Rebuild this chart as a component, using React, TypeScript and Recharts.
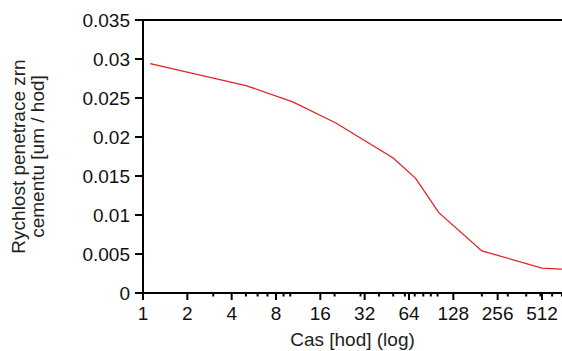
import { LineChart, Line, XAxis, YAxis, ReferenceLine } from "recharts";

// hours (log scale) and penetration speed
const hours = [1.12, 5, 10.4, 20.4, 50, 71, 102, 200, 512, 700];
const speed = [0.0294, 0.0266, 0.0245, 0.0218, 0.0173, 0.0147, 0.0103, 0.0054, 0.0032, 0.00305];

const majorTicks = [1, 2, 4, 8, 16, 32, 64, 128, 256, 512];
const minorTicks = [3, 5, 6, 7, 9, 10, 20, 30, 40, 50, 60, 70, 80, 90, 100, 200, 300, 400, 500, 600, 700];
const yTicks = [0, 0.005, 0.01, 0.015, 0.02, 0.025, 0.03, 0.035];

const data = hours.map((t, i) => ({ t, v: speed[i] }));

const FONT = "'Liberation Sans', Arial, Helvetica, sans-serif";

function XTick({ x, y, payload }: any) {
    const major = majorTicks.includes(payload.value);
    return (
        <g>
            <line x1={x} x2={x} y1={y} y2={y + (major ? 7 : 3.5)} stroke="#000" strokeWidth={2} />
            {major && (
                <text x={x} y={y + 27} textAnchor="middle" fontSize={19} fontFamily={FONT} fill="#111">
                    {payload.value}
                </text>
            )}
        </g>
    );
}

function YTitle(props: any) {
    const vb = props.viewBox;
    const cy = vb.y + vb.height / 2;
    return (
        <g fontFamily={FONT} fontSize={19} fill="#222">
            <text x={0} y={0} textAnchor="middle" dominantBaseline="central" transform={`translate(${vb.x + 18}, ${cy}) rotate(-90)`}>
                Rychlost penetrace zrn
            </text>
            <text x={0} y={0} textAnchor="middle" dominantBaseline="central" transform={`translate(${vb.x + 37}, ${cy}) rotate(-90)`}>
                cementu [um / hod]
            </text>
        </g>
    );
}

export default function App() {
    return (
        <div style={{ position: "absolute", left: 0, top: 0, width: 562, height: 351, background: "#fff" }}>
            <LineChart width={562} height={351} data={data} margin={{ top: 20, right: 0, left: 0, bottom: 0 }}>
                <XAxis
                    dataKey="t"
                    type="number"
                    scale="log"
                    domain={[1, 700]}
                    allowDataOverflow
                    ticks={[...majorTicks, ...minorTicks]}
                    interval={0}
                    tick={(p: any) => <XTick {...p} />}
                    tickLine={false}
                    tickSize={0}
                    tickMargin={0}
                    height={58}
                    axisLine={{ stroke: "#000", strokeWidth: 2 }}
                    label={{ value: "Cas [hod] (log)", position: "insideBottom", offset: 5, fontSize: 19, fontFamily: FONT, fill: "#222" }}
                />
                <YAxis
                    type="number"
                    domain={[0, 0.035]}
                    ticks={yTicks}
                    interval={0}
                    width={143}
                    tickSize={8}
                    tickMargin={5}
                    tickFormatter={(v: number) => String(v)}
                    tick={{ fontSize: 19, fontFamily: FONT, fill: "#111" }}
                    tickLine={{ stroke: "#000", strokeWidth: 2 }}
                    axisLine={{ stroke: "#000", strokeWidth: 2 }}
                    label={(p: any) => <YTitle {...p} />}
                />
                <ReferenceLine y={0.035} stroke="#000" strokeWidth={2} />
                <Line type="linear" dataKey="v" stroke="#e02424" strokeWidth={1.3} dot={false} isAnimationActive={false} />
            </LineChart>
        </div>
    );
}
